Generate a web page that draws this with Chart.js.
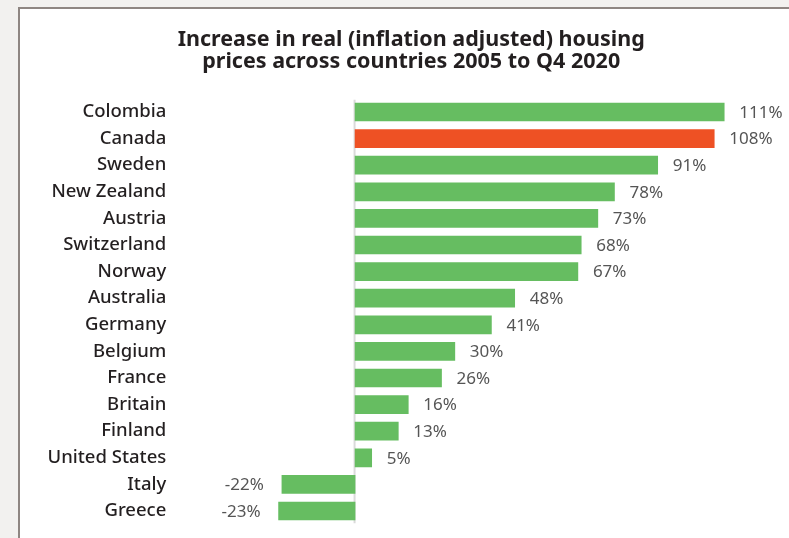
<!DOCTYPE html>
<html>
<head>
<meta charset="utf-8">
<script src="https://cdn.jsdelivr.net/npm/chart.js@4/dist/chart.umd.min.js"></script>
<style>
  html, body { margin: 0; padding: 0; background: #f2f1ef; }
  #wrap { width: 789px; height: 538px; }
</style>
</head>
<body>
<div id="wrap"><canvas id="housingChart" width="789" height="538"></canvas></div>
<script>
const titleLines = ["Increase in real (inflation adjusted) housing", "prices across countries 2005 to Q4 2020"];
const countries = ["Colombia", "Canada", "Sweden", "New Zealand", "Austria", "Switzerland", "Norway", "Australia",
  "Germany", "Belgium", "France", "Britain", "Finland", "United States", "Italy", "Greece"];
const increase = [111, 108, 91, 78, 73, 68, 67, 48, 41, 30, 26, 16, 13, 5, -22, -23];
const highlight = "Canada";

const green = "#66bd61";
const orange = "#ee5124";

// panel background + border like the source graphic
const panelBg = {
  id: "panelBg",
  beforeDraw(chart) {
    const c = chart.ctx;
    c.save();
    c.fillStyle = "#f2f1ef";
    c.fillRect(0, 0, chart.width, chart.height);
    c.fillStyle = "#ffffff";
    c.fillRect(19, 8, chart.width, chart.height);
    c.strokeStyle = "#8e8682";
    c.lineWidth = 2;
    c.beginPath();
    c.moveTo(19, chart.height);
    c.lineTo(19, 8);
    c.lineTo(chart.width, 8);
    c.stroke();
    c.restore();
  }
};

// zero line and value labels
const valueLabels = {
  id: "valueLabels",
  beforeDatasetsDraw(chart) {
    const c = chart.ctx;
    const x0 = chart.scales.x.getPixelForValue(0);
    c.save();
    c.strokeStyle = "#dadada";
    c.lineWidth = 2;
    c.beginPath();
    c.moveTo(x0 - 0.5, chart.chartArea.top + 1);
    c.lineTo(x0 - 0.5, chart.chartArea.bottom - 1);
    c.stroke();
    c.restore();
  },
  afterDatasetsDraw(chart) {
    const c = chart.ctx;
    const meta = chart.getDatasetMeta(0);
    c.save();
    c.font = "17px 'Noto Sans'";
    c.fillStyle = "#555555";
    c.textBaseline = "middle";
    meta.data.forEach((bar, i) => {
      const v = increase[i];
      if (v >= 0) {
        c.textAlign = "left";
        c.fillText(v + "%", bar.x + 15, bar.y + 1);
      } else {
        c.textAlign = "right";
        c.fillText(v + "%", bar.x - 18, bar.y + 1);
      }
    });
    c.restore();
  }
};

new Chart(document.getElementById("housingChart"), {
  type: "bar",
  data: {
    labels: countries,
    datasets: [{
      data: increase,
      backgroundColor: countries.map(c => c === highlight ? orange : green),
      barThickness: 18,
      borderWidth: 0
    }]
  },
  options: {
    indexAxis: "y",
    responsive: false,
    animation: false,
    layout: { padding: { left: 35, top: 10, right: 1.6, bottom: 13.7 } },
    plugins: {
      legend: { display: false },
      tooltip: { enabled: false },
      title: {
        display: true,
        text: titleLines,
        color: "#231f20",
        font: { family: "'Noto Sans'", size: 21.5, weight: "bold", lineHeight: 22 / 21.5 },
        padding: { top: 19, bottom: 25.7 }
      }
    },
    scales: {
      x: {
        display: false,
        min: -30,
        max: 130
      },
      y: {
        grid: { display: false, drawTicks: false },
        border: { display: false },
        ticks: {
          color: "#231f20",
          padding: 89,
          font: { family: "'Noto Sans'", size: 18.5, weight: 500 }
        },
        afterFit(scale) {
          scale.width = 220.3;
          // big tick padding would otherwise also pad top/bottom
          scale.paddingTop = 0;
          scale.paddingBottom = 0;
        }
      }
    }
  },
  plugins: [panelBg, valueLabels]
});
</script>
</body>
</html>
